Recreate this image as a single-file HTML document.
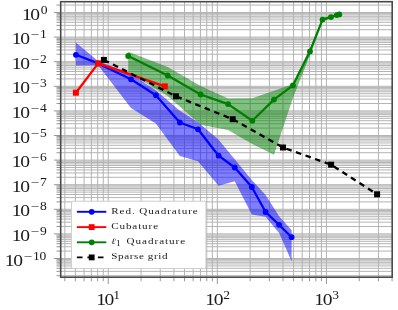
<!DOCTYPE html><html><head><meta charset="utf-8"><style>html,body{margin:0;padding:0;background:#fff}body{width:398px;height:310px;overflow:hidden}</style></head><body><svg width="398" height="310" viewBox="0 0 398 310" style="display:block;will-change:transform"><rect width="398" height="310" fill="#fff"/><g stroke="#b0b0b0" stroke-width="0.95" fill="none"><path d="M64.84 1.7 V277.2"/><path d="M75.41 1.7 V277.2"/><path d="M84.05 1.7 V277.2"/><path d="M91.35 1.7 V277.2"/><path d="M97.68 1.7 V277.2"/><path d="M103.26 1.7 V277.2"/><path d="M108.25 1.7 V277.2"/><path d="M141.09 1.7 V277.2"/><path d="M160.29 1.7 V277.2"/><path d="M173.92 1.7 V277.2"/><path d="M184.49 1.7 V277.2"/><path d="M193.13 1.7 V277.2"/><path d="M200.43 1.7 V277.2"/><path d="M206.76 1.7 V277.2"/><path d="M212.34 1.7 V277.2"/><path d="M217.33 1.7 V277.2"/><path d="M250.17 1.7 V277.2"/><path d="M269.37 1.7 V277.2"/><path d="M283.00 1.7 V277.2"/><path d="M293.57 1.7 V277.2"/><path d="M302.21 1.7 V277.2"/><path d="M309.51 1.7 V277.2"/><path d="M315.84 1.7 V277.2"/><path d="M321.42 1.7 V277.2"/><path d="M326.41 1.7 V277.2"/><path d="M359.25 1.7 V277.2"/><path d="M378.45 1.7 V277.2"/><path d="M60.7 275.69 H392.2"/><path d="M60.7 271.36 H392.2"/><path d="M60.7 268.29 H392.2"/><path d="M60.7 265.91 H392.2"/><path d="M60.7 263.96 H392.2"/><path d="M60.7 262.31 H392.2"/><path d="M60.7 260.88 H392.2"/><path d="M60.7 259.63 H392.2"/><path d="M60.7 258.50 H392.2"/><path d="M60.7 251.09 H392.2"/><path d="M60.7 246.76 H392.2"/><path d="M60.7 243.69 H392.2"/><path d="M60.7 241.31 H392.2"/><path d="M60.7 239.36 H392.2"/><path d="M60.7 237.71 H392.2"/><path d="M60.7 236.28 H392.2"/><path d="M60.7 235.03 H392.2"/><path d="M60.7 233.90 H392.2"/><path d="M60.7 226.49 H392.2"/><path d="M60.7 222.16 H392.2"/><path d="M60.7 219.09 H392.2"/><path d="M60.7 216.71 H392.2"/><path d="M60.7 214.76 H392.2"/><path d="M60.7 213.11 H392.2"/><path d="M60.7 211.68 H392.2"/><path d="M60.7 210.43 H392.2"/><path d="M60.7 209.30 H392.2"/><path d="M60.7 201.89 H392.2"/><path d="M60.7 197.56 H392.2"/><path d="M60.7 194.49 H392.2"/><path d="M60.7 192.11 H392.2"/><path d="M60.7 190.16 H392.2"/><path d="M60.7 188.51 H392.2"/><path d="M60.7 187.08 H392.2"/><path d="M60.7 185.83 H392.2"/><path d="M60.7 184.70 H392.2"/><path d="M60.7 177.29 H392.2"/><path d="M60.7 172.96 H392.2"/><path d="M60.7 169.89 H392.2"/><path d="M60.7 167.51 H392.2"/><path d="M60.7 165.56 H392.2"/><path d="M60.7 163.91 H392.2"/><path d="M60.7 162.48 H392.2"/><path d="M60.7 161.23 H392.2"/><path d="M60.7 160.10 H392.2"/><path d="M60.7 152.69 H392.2"/><path d="M60.7 148.36 H392.2"/><path d="M60.7 145.29 H392.2"/><path d="M60.7 142.91 H392.2"/><path d="M60.7 140.96 H392.2"/><path d="M60.7 139.31 H392.2"/><path d="M60.7 137.88 H392.2"/><path d="M60.7 136.63 H392.2"/><path d="M60.7 135.50 H392.2"/><path d="M60.7 128.09 H392.2"/><path d="M60.7 123.76 H392.2"/><path d="M60.7 120.69 H392.2"/><path d="M60.7 118.31 H392.2"/><path d="M60.7 116.36 H392.2"/><path d="M60.7 114.71 H392.2"/><path d="M60.7 113.28 H392.2"/><path d="M60.7 112.03 H392.2"/><path d="M60.7 110.90 H392.2"/><path d="M60.7 103.49 H392.2"/><path d="M60.7 99.16 H392.2"/><path d="M60.7 96.09 H392.2"/><path d="M60.7 93.71 H392.2"/><path d="M60.7 91.76 H392.2"/><path d="M60.7 90.11 H392.2"/><path d="M60.7 88.68 H392.2"/><path d="M60.7 87.43 H392.2"/><path d="M60.7 86.30 H392.2"/><path d="M60.7 78.89 H392.2"/><path d="M60.7 74.56 H392.2"/><path d="M60.7 71.49 H392.2"/><path d="M60.7 69.11 H392.2"/><path d="M60.7 67.16 H392.2"/><path d="M60.7 65.51 H392.2"/><path d="M60.7 64.08 H392.2"/><path d="M60.7 62.83 H392.2"/><path d="M60.7 61.70 H392.2"/><path d="M60.7 54.29 H392.2"/><path d="M60.7 49.96 H392.2"/><path d="M60.7 46.89 H392.2"/><path d="M60.7 44.51 H392.2"/><path d="M60.7 42.56 H392.2"/><path d="M60.7 40.91 H392.2"/><path d="M60.7 39.48 H392.2"/><path d="M60.7 38.23 H392.2"/><path d="M60.7 37.10 H392.2"/><path d="M60.7 29.69 H392.2"/><path d="M60.7 25.36 H392.2"/><path d="M60.7 22.29 H392.2"/><path d="M60.7 19.91 H392.2"/><path d="M60.7 17.96 H392.2"/><path d="M60.7 16.31 H392.2"/><path d="M60.7 14.88 H392.2"/><path d="M60.7 13.63 H392.2"/><path d="M60.7 12.50 H392.2"/><path d="M60.7 5.09 H392.2"/></g><polygon points="75.9,42.5 98.2,61.2 131.0,73.5 155.9,90.5 179.8,110.8 198.0,122.2 218.6,139.8 234.7,159.3 251.8,180.0 265.6,195.1 279.1,216.3 291.6,230.2 291.6,261.3 279.1,233.0 265.6,216.8 251.8,214.5 234.7,181.3 218.6,185.8 198.0,161.2 179.8,155.9 155.9,123.5 131.0,107.9 98.2,65.2 75.9,65.6" fill="#0000ff" fill-opacity="0.5"/><polygon points="128.2,51.7 167.7,67.0 200.6,86.0 228.1,98.5 252.3,98.3 274.0,90.8 292.9,84.0 310.0,48.0 322.5,17.8 331.0,16.1 336.8,14.3 339.3,13.7 339.3,15.1 336.8,15.9 331.0,18.1 322.5,21.4 310.0,55.0 292.9,98.0 274.0,154.7 252.3,144.0 228.1,130.0 200.6,124.8 167.7,95.9 128.2,72.5" fill="#008000" fill-opacity="0.5"/><polyline points="75.9,54.8 98.2,63.4 131.0,79.3 155.9,95.2 179.8,122.5 198.0,129.3 218.6,155.7 234.7,167.5 251.8,187.0 265.6,212.0 279.1,224.8 291.6,237.2" fill="none" stroke="#0000ff" stroke-width="2.25" stroke-linejoin="round"/><circle cx="75.9" cy="54.8" r="2.9" fill="#0000ff"/><circle cx="98.2" cy="63.4" r="2.9" fill="#0000ff"/><circle cx="131.0" cy="79.3" r="2.9" fill="#0000ff"/><circle cx="155.9" cy="95.2" r="2.9" fill="#0000ff"/><circle cx="179.8" cy="122.5" r="2.9" fill="#0000ff"/><circle cx="198.0" cy="129.3" r="2.9" fill="#0000ff"/><circle cx="218.6" cy="155.7" r="2.9" fill="#0000ff"/><circle cx="234.7" cy="167.5" r="2.9" fill="#0000ff"/><circle cx="251.8" cy="187.0" r="2.9" fill="#0000ff"/><circle cx="265.6" cy="212.0" r="2.9" fill="#0000ff"/><circle cx="279.1" cy="224.8" r="2.9" fill="#0000ff"/><circle cx="291.6" cy="237.2" r="2.9" fill="#0000ff"/><polyline points="75.9,92.7 98.2,63.4 164.8,86.4" fill="none" stroke="#ff0000" stroke-width="2.25" stroke-linejoin="round"/><rect x="72.9" y="89.7" width="6" height="6" fill="#ff0000"/><rect x="95.2" y="60.4" width="6" height="6" fill="#ff0000"/><rect x="161.8" y="83.4" width="6" height="6" fill="#ff0000"/><polyline points="128.2,56.0 167.7,75.5 200.6,94.5 228.1,104.1 252.3,120.7 274.0,99.6 292.9,85.3 310.0,51.4 322.5,19.6 331.0,17.1 336.8,15.1 339.3,14.4" fill="none" stroke="#008000" stroke-width="2.25" stroke-linejoin="round"/><circle cx="128.2" cy="56.0" r="2.9" fill="#008000"/><circle cx="167.7" cy="75.5" r="2.9" fill="#008000"/><circle cx="200.6" cy="94.5" r="2.9" fill="#008000"/><circle cx="228.1" cy="104.1" r="2.9" fill="#008000"/><circle cx="252.3" cy="120.7" r="2.9" fill="#008000"/><circle cx="274.0" cy="99.6" r="2.9" fill="#008000"/><circle cx="292.9" cy="85.3" r="2.9" fill="#008000"/><circle cx="310.0" cy="51.4" r="2.9" fill="#008000"/><circle cx="322.5" cy="19.6" r="2.9" fill="#008000"/><circle cx="331.0" cy="17.1" r="2.9" fill="#008000"/><circle cx="336.8" cy="15.1" r="2.9" fill="#008000"/><circle cx="339.3" cy="14.4" r="2.9" fill="#008000"/><polyline points="103.9,59.9 176.0,96.3 232.7,119.2 283.0,147.5 331.1,164.7 377.1,194.3" fill="none" stroke="#000000" stroke-width="2.25" stroke-linejoin="round" stroke-dasharray="5.6 4.56"/><rect x="100.9" y="56.9" width="6" height="6" fill="#000000"/><rect x="173.0" y="93.3" width="6" height="6" fill="#000000"/><rect x="229.7" y="116.2" width="6" height="6" fill="#000000"/><rect x="280.0" y="144.5" width="6" height="6" fill="#000000"/><rect x="328.1" y="161.7" width="6" height="6" fill="#000000"/><rect x="374.1" y="191.3" width="6" height="6" fill="#000000"/><g stroke="#8c8c8c" stroke-width="0.9" fill="none"><path d="M64.84 277.2 v4"/><path d="M75.41 277.2 v4"/><path d="M84.05 277.2 v4"/><path d="M91.35 277.2 v4"/><path d="M97.68 277.2 v4"/><path d="M103.26 277.2 v4"/><path d="M108.25 277.2 v6.8"/><path d="M141.09 277.2 v4"/><path d="M160.29 277.2 v4"/><path d="M173.92 277.2 v4"/><path d="M184.49 277.2 v4"/><path d="M193.13 277.2 v4"/><path d="M200.43 277.2 v4"/><path d="M206.76 277.2 v4"/><path d="M212.34 277.2 v4"/><path d="M217.33 277.2 v6.8"/><path d="M250.17 277.2 v4"/><path d="M269.37 277.2 v4"/><path d="M283.00 277.2 v4"/><path d="M293.57 277.2 v4"/><path d="M302.21 277.2 v4"/><path d="M309.51 277.2 v4"/><path d="M315.84 277.2 v4"/><path d="M321.42 277.2 v4"/><path d="M326.41 277.2 v6.8"/><path d="M359.25 277.2 v4"/><path d="M378.45 277.2 v4"/><path d="M392.08 277.2 v4"/><path d="M60.7 275.69 h-4.2"/><path d="M60.7 271.36 h-4.2"/><path d="M60.7 268.29 h-4.2"/><path d="M60.7 265.91 h-4.2"/><path d="M60.7 263.96 h-4.2"/><path d="M60.7 262.31 h-4.2"/><path d="M60.7 260.88 h-4.2"/><path d="M60.7 259.63 h-4.2"/><path d="M60.7 258.50 h-6.8"/><path d="M60.7 251.09 h-4.2"/><path d="M60.7 246.76 h-4.2"/><path d="M60.7 243.69 h-4.2"/><path d="M60.7 241.31 h-4.2"/><path d="M60.7 239.36 h-4.2"/><path d="M60.7 237.71 h-4.2"/><path d="M60.7 236.28 h-4.2"/><path d="M60.7 235.03 h-4.2"/><path d="M60.7 233.90 h-6.8"/><path d="M60.7 226.49 h-4.2"/><path d="M60.7 222.16 h-4.2"/><path d="M60.7 219.09 h-4.2"/><path d="M60.7 216.71 h-4.2"/><path d="M60.7 214.76 h-4.2"/><path d="M60.7 213.11 h-4.2"/><path d="M60.7 211.68 h-4.2"/><path d="M60.7 210.43 h-4.2"/><path d="M60.7 209.30 h-6.8"/><path d="M60.7 201.89 h-4.2"/><path d="M60.7 197.56 h-4.2"/><path d="M60.7 194.49 h-4.2"/><path d="M60.7 192.11 h-4.2"/><path d="M60.7 190.16 h-4.2"/><path d="M60.7 188.51 h-4.2"/><path d="M60.7 187.08 h-4.2"/><path d="M60.7 185.83 h-4.2"/><path d="M60.7 184.70 h-6.8"/><path d="M60.7 177.29 h-4.2"/><path d="M60.7 172.96 h-4.2"/><path d="M60.7 169.89 h-4.2"/><path d="M60.7 167.51 h-4.2"/><path d="M60.7 165.56 h-4.2"/><path d="M60.7 163.91 h-4.2"/><path d="M60.7 162.48 h-4.2"/><path d="M60.7 161.23 h-4.2"/><path d="M60.7 160.10 h-6.8"/><path d="M60.7 152.69 h-4.2"/><path d="M60.7 148.36 h-4.2"/><path d="M60.7 145.29 h-4.2"/><path d="M60.7 142.91 h-4.2"/><path d="M60.7 140.96 h-4.2"/><path d="M60.7 139.31 h-4.2"/><path d="M60.7 137.88 h-4.2"/><path d="M60.7 136.63 h-4.2"/><path d="M60.7 135.50 h-6.8"/><path d="M60.7 128.09 h-4.2"/><path d="M60.7 123.76 h-4.2"/><path d="M60.7 120.69 h-4.2"/><path d="M60.7 118.31 h-4.2"/><path d="M60.7 116.36 h-4.2"/><path d="M60.7 114.71 h-4.2"/><path d="M60.7 113.28 h-4.2"/><path d="M60.7 112.03 h-4.2"/><path d="M60.7 110.90 h-6.8"/><path d="M60.7 103.49 h-4.2"/><path d="M60.7 99.16 h-4.2"/><path d="M60.7 96.09 h-4.2"/><path d="M60.7 93.71 h-4.2"/><path d="M60.7 91.76 h-4.2"/><path d="M60.7 90.11 h-4.2"/><path d="M60.7 88.68 h-4.2"/><path d="M60.7 87.43 h-4.2"/><path d="M60.7 86.30 h-6.8"/><path d="M60.7 78.89 h-4.2"/><path d="M60.7 74.56 h-4.2"/><path d="M60.7 71.49 h-4.2"/><path d="M60.7 69.11 h-4.2"/><path d="M60.7 67.16 h-4.2"/><path d="M60.7 65.51 h-4.2"/><path d="M60.7 64.08 h-4.2"/><path d="M60.7 62.83 h-4.2"/><path d="M60.7 61.70 h-6.8"/><path d="M60.7 54.29 h-4.2"/><path d="M60.7 49.96 h-4.2"/><path d="M60.7 46.89 h-4.2"/><path d="M60.7 44.51 h-4.2"/><path d="M60.7 42.56 h-4.2"/><path d="M60.7 40.91 h-4.2"/><path d="M60.7 39.48 h-4.2"/><path d="M60.7 38.23 h-4.2"/><path d="M60.7 37.10 h-6.8"/><path d="M60.7 29.69 h-4.2"/><path d="M60.7 25.36 h-4.2"/><path d="M60.7 22.29 h-4.2"/><path d="M60.7 19.91 h-4.2"/><path d="M60.7 17.96 h-4.2"/><path d="M60.7 16.31 h-4.2"/><path d="M60.7 14.88 h-4.2"/><path d="M60.7 13.63 h-4.2"/><path d="M60.7 12.50 h-6.8"/><path d="M60.7 5.09 h-4.2"/></g><rect x="60.7" y="1.7" width="331.5" height="275.5" fill="none" stroke="#4a4a4a" stroke-width="1.6"/><rect x="71.5" y="201.2" width="134.4" height="67.3" rx="1.5" fill="#fff" stroke="#d0d0d0" stroke-width="1"/><path d="M76.9 211.8 H106.3" stroke="#0000ff" stroke-width="1.9" fill="none"/><circle cx="91.7" cy="211.8" r="2.9" fill="#0000ff"/><path d="M76.9 227.1 H106.3" stroke="#ff0000" stroke-width="1.9" fill="none"/><rect x="88.8" y="224.2" width="5.8" height="5.8" fill="#ff0000"/><path d="M76.9 242.3 H106.3" stroke="#008000" stroke-width="1.9" fill="none"/><circle cx="91.7" cy="242.3" r="2.9" fill="#008000"/><path d="M76.9 257.4 H106.3" stroke="#000" stroke-width="1.9" fill="none" stroke-dasharray="5.6 4.9"/><rect x="88.8" y="254.5" width="5.8" height="5.8" fill="#000"/><g font-family="'Liberation Serif', serif" font-size="8.2" fill="#1a1a1a"><text transform="translate(111.20 213.50) scale(1.36 1)" textLength="63.68" lengthAdjust="spacing">Red. Quadrature</text><text transform="translate(111.20 228.80) scale(1.36 1)" textLength="34.49" lengthAdjust="spacing">Cubature</text><text transform="translate(110.9 244.00) scale(1.3 1)" font-style="italic">ℓ</text><text transform="translate(116.0 246.30) scale(1.3 1)" font-size="7.4">1</text><text transform="translate(126.60 244.00) scale(1.36 1)" textLength="43.09" lengthAdjust="spacing">Quadrature</text><text transform="translate(111.20 259.10) scale(1.36 1)" textLength="41.47" lengthAdjust="spacing">Sparse grid</text></g><g font-family="'Liberation Serif', serif" fill="#1a1a1a"><text transform="translate(21.90 19.60) scale(1.2 1)" font-size="16.3" letter-spacing="-1.1">10</text><text transform="translate(40.70 13.60) scale(1.17 1)" font-size="11.6" letter-spacing="0">0</text><text transform="translate(11.80 44.20) scale(1.2 1)" font-size="16.3" letter-spacing="-1.1">10</text><text transform="translate(30.70 38.20) scale(1.32 1)" font-size="11.6" letter-spacing="0">−</text><text transform="translate(40.00 38.20) scale(1.17 1)" font-size="11.6" letter-spacing="0">1</text><text transform="translate(11.80 68.80) scale(1.2 1)" font-size="16.3" letter-spacing="-1.1">10</text><text transform="translate(30.70 62.80) scale(1.32 1)" font-size="11.6" letter-spacing="0">−</text><text transform="translate(40.00 62.80) scale(1.17 1)" font-size="11.6" letter-spacing="0">2</text><text transform="translate(11.80 93.40) scale(1.2 1)" font-size="16.3" letter-spacing="-1.1">10</text><text transform="translate(30.70 87.40) scale(1.32 1)" font-size="11.6" letter-spacing="0">−</text><text transform="translate(40.00 87.40) scale(1.17 1)" font-size="11.6" letter-spacing="0">3</text><text transform="translate(11.80 118.00) scale(1.2 1)" font-size="16.3" letter-spacing="-1.1">10</text><text transform="translate(30.70 112.00) scale(1.32 1)" font-size="11.6" letter-spacing="0">−</text><text transform="translate(40.00 112.00) scale(1.17 1)" font-size="11.6" letter-spacing="0">4</text><text transform="translate(11.80 142.60) scale(1.2 1)" font-size="16.3" letter-spacing="-1.1">10</text><text transform="translate(30.70 136.60) scale(1.32 1)" font-size="11.6" letter-spacing="0">−</text><text transform="translate(40.00 136.60) scale(1.17 1)" font-size="11.6" letter-spacing="0">5</text><text transform="translate(11.80 167.20) scale(1.2 1)" font-size="16.3" letter-spacing="-1.1">10</text><text transform="translate(30.70 161.20) scale(1.32 1)" font-size="11.6" letter-spacing="0">−</text><text transform="translate(40.00 161.20) scale(1.17 1)" font-size="11.6" letter-spacing="0">6</text><text transform="translate(11.80 191.80) scale(1.2 1)" font-size="16.3" letter-spacing="-1.1">10</text><text transform="translate(30.70 185.80) scale(1.32 1)" font-size="11.6" letter-spacing="0">−</text><text transform="translate(40.00 185.80) scale(1.17 1)" font-size="11.6" letter-spacing="0">7</text><text transform="translate(11.80 216.40) scale(1.2 1)" font-size="16.3" letter-spacing="-1.1">10</text><text transform="translate(30.70 210.40) scale(1.32 1)" font-size="11.6" letter-spacing="0">−</text><text transform="translate(40.00 210.40) scale(1.17 1)" font-size="11.6" letter-spacing="0">8</text><text transform="translate(11.80 241.00) scale(1.2 1)" font-size="16.3" letter-spacing="-1.1">10</text><text transform="translate(30.70 235.00) scale(1.32 1)" font-size="11.6" letter-spacing="0">−</text><text transform="translate(40.00 235.00) scale(1.17 1)" font-size="11.6" letter-spacing="0">9</text><text transform="translate(4.80 265.60) scale(1.2 1)" font-size="16.3" letter-spacing="-1.1">10</text><text transform="translate(23.70 259.60) scale(1.32 1)" font-size="11.6" letter-spacing="0">−</text><text transform="translate(33.00 259.60) scale(1.17 1)" font-size="11.6" letter-spacing="0">1</text><text transform="translate(39.40 259.60) scale(1.17 1)" font-size="11.6" letter-spacing="0">0</text><text transform="translate(96.15 304.60) scale(1.2 1)" font-size="16.3" letter-spacing="-1.1">10</text><text transform="translate(113.25 298.60) scale(1.17 1)" font-size="11.6" letter-spacing="0.3">1</text><text transform="translate(205.23 304.60) scale(1.2 1)" font-size="16.3" letter-spacing="-1.1">10</text><text transform="translate(223.13 298.60) scale(1.17 1)" font-size="11.6" letter-spacing="0.3">2</text><text transform="translate(314.31 304.60) scale(1.2 1)" font-size="16.3" letter-spacing="-1.1">10</text><text transform="translate(332.21 298.60) scale(1.17 1)" font-size="11.6" letter-spacing="0.3">3</text></g></svg></body></html>
